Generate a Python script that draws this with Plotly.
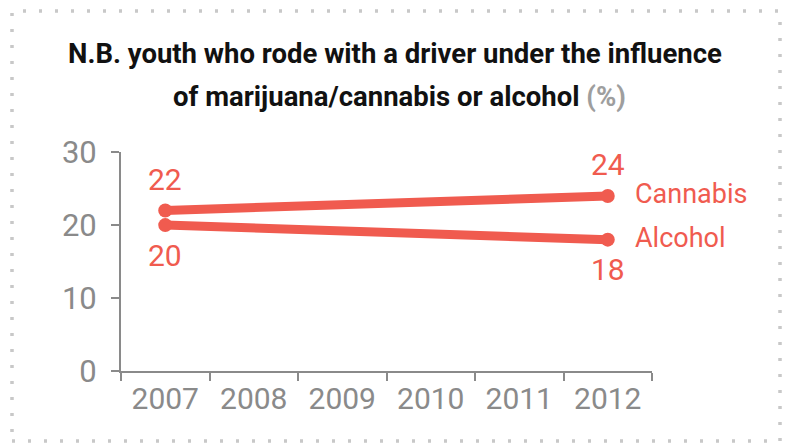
import plotly.graph_objects as go

# Survey years on the category axis, values only for the two survey waves
years = ["2007", "2008", "2009", "2010", "2011", "2012"]
survey_years = ["2007", "2012"]
cannabis = [22, 24]
alcohol = [20, 18]
y_ticks = [0, 10, 20, 30]

RED = "#F05B4F"
GREY = "#8A8A8A"
W, H = 791, 444
FONT = "Roboto"

fig = go.Figure()

for name, vals in [("Cannabis", cannabis), ("Alcohol", alcohol)]:
    fig.add_trace(go.Scatter(
        x=survey_years, y=vals, name=name, mode="lines+markers",
        line=dict(color=RED, width=9),
        marker=dict(color=RED, size=14),
        showlegend=False, hoverinfo="x+y+name",
    ))

annotations = []
# annotations on a category axis take the category's serial index
idx = [years.index(y) for y in survey_years]

# value labels: upper series above the points, lower series below
for vals, shift in [(cannabis, 31), (alcohol, -30)]:
    for i, v in zip(idx, vals):
        annotations.append(dict(
            x=i, y=v, xref="x", yref="y", text=str(v), showarrow=False,
            yshift=shift, xanchor="center", yanchor="middle",
            font=dict(family=FONT, size=30, color=RED),
        ))
# series names beside the last point
for name, vals in [("Cannabis", cannabis), ("Alcohol", alcohol)]:
    annotations.append(dict(
        x=idx[-1], y=vals[-1], xref="x", yref="y", text=name,
        showarrow=False, xanchor="left", yanchor="middle", xshift=25, yshift=2,
        font=dict(family=FONT, size=27, color=RED),
    ))

# two-line heading
annotations.append(dict(
    x=395 / W, y=1 - 54 / H, xref="paper", yref="paper", showarrow=False,
    text="<b>N.B. youth who rode with a driver under the influence</b>",
    xanchor="center", yanchor="middle",
    font=dict(family=FONT, size=27.5, color="#111111"),
))
annotations.append(dict(
    x=399 / W, y=1 - 96 / H, xref="paper", yref="paper", showarrow=False,
    text="<b>of marijuana/cannabis or alcohol <span style='color:#9E9E9E'>(%)</span></b>",
    xanchor="center", yanchor="middle",
    font=dict(family=FONT, size=27.5, color="#111111"),
))

fig.update_layout(
    width=W, height=H,
    margin=dict(l=0, r=0, t=0, b=0),
    paper_bgcolor="white", plot_bgcolor="white",
    annotations=annotations,
    xaxis=dict(
        domain=[121 / W, 652 / W], automargin=False,
        type="category", categoryorder="array", categoryarray=years,
        tickvals=years, range=[-0.5, len(years) - 0.5],
        tickson="boundaries", ticks="outside", ticklen=8, tickwidth=2,
        tickcolor=GREY, showline=True, linecolor=GREY, linewidth=2,
        showgrid=False, zeroline=False, ticklabelstandoff=0,
        tickfont=dict(family=FONT, size=30, color=GREY),
    ),
    yaxis=dict(
        domain=[(H - 370.7) / H, (H - 152.3) / H], automargin=False,
        range=[0, 30], tickvals=y_ticks,
        ticks="outside", ticklen=8, tickwidth=2, tickcolor=GREY,
        showline=True, linecolor=GREY, linewidth=2,
        showgrid=False, zeroline=False, ticklabelstandoff=8,
        tickfont=dict(family=FONT, size=31, color=GREY),
    ),
    shapes=[dict(
        type="rect", xref="paper", yref="paper",
        x0=12 / W, x1=780 / W, y0=1 - 441 / H, y1=1 - 11 / H,
        line=dict(color="#C8C8C8", width=3.5, dash="3px,13px"),
    )],
)

fig.write_html("out.html")
